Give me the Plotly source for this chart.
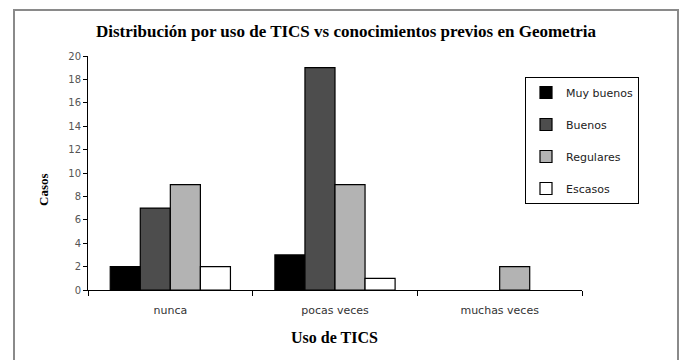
import plotly.graph_objects as go

categories = ["nunca", "pocas veces", "muchas veces"]
series_names = ["Muy buenos", "Buenos", "Regulares", "Escasos"]
muy_buenos = [2, 3, 0]
buenos = [7, 19, 0]
regulares = [9, 9, 2]
escasos = [2, 1, 0]
y_ticks = [0, 2, 4, 6, 8, 10, 12, 14, 16, 18, 20]

series_values = [muy_buenos, buenos, regulares, escasos]
fill_colors = ["#000000", "#4d4d4d", "#b3b3b3", "#ffffff"]

fig = go.Figure()
for name, vals, col in zip(series_names, series_values, fill_colors):
    # empty bars get no outline so nothing is drawn for a zero count
    outline = [1.2 if v > 0 else 0 for v in vals]
    fig.add_trace(go.Bar(
        x=categories, y=vals, name=name,
        marker=dict(color=col, line=dict(color="#000000", width=outline)),
        legendgroup=name,
    ))

W, H = 685, 360
L, R, T, B = 88, 103, 56, 70
pw, ph = W - L - R, H - T - B

def px_x(x):
    return (x - L) / pw

def px_y(y):
    return (H - B - y) / ph

serif = "Liberation Serif, Times New Roman"
sans = "DejaVu Sans, Arial"

fig.update_layout(
    width=W, height=H,
    margin=dict(l=L, r=R, t=T, b=B),
    paper_bgcolor="white", plot_bgcolor="white",
    barmode="group", bargap=0.27, bargroupgap=0,
    font=dict(family=sans, size=11, color="#222"),
    showlegend=True,
    legend=dict(
        x=px_x(525), y=px_y(77), xanchor="left", yanchor="top",
        bordercolor="#000", borderwidth=1, bgcolor="white",
        font=dict(family=sans, size=11, color="#222"),
        tracegroupgap=13, itemwidth=30,
    ),
    xaxis=dict(
        showline=True, linecolor="#000", linewidth=1,
        ticks="outside", tickson="boundaries", ticklen=5, tickcolor="#000",
        ticklabelstandoff=10,
        tickfont=dict(family=sans, size=11, color="#333"), showgrid=False,
    ),
    yaxis=dict(
        range=[0, 20], tickvals=y_ticks,
        showline=True, linecolor="#000", linewidth=1,
        ticks="outside", ticklen=4, tickcolor="#000",
        tickfont=dict(family=sans, size=10, color="#555"), showgrid=False, zeroline=False,
    ),
    annotations=[
        dict(text="<b>Distribución por uso de TICS vs conocimientos previos en Geometria</b>",
             xref="paper", yref="paper", x=px_x(346), y=px_y(32),
             xanchor="center", yanchor="middle",
             showarrow=False, font=dict(family=serif, size=17, color="#000")),
        dict(text="<b>Casos</b>", textangle=-90,
             xref="paper", yref="paper", x=px_x(43), y=px_y(190),
             xanchor="center", yanchor="middle",
             showarrow=False, font=dict(family=serif, size=13, color="#000")),
        dict(text="<b>Uso de TICS</b>",
             xref="paper", yref="paper", x=px_x(334), y=px_y(337),
             xanchor="center", yanchor="middle",
             showarrow=False, font=dict(family=serif, size=16, color="#000")),
    ],
    shapes=[
        dict(type="rect", xref="paper", yref="paper",
             x0=px_x(14), x1=px_x(678), y0=px_y(380), y1=px_y(10),
             line=dict(color="#8a8a8a", width=2), layer="below"),
    ],
)

fig.write_html("out.html")
